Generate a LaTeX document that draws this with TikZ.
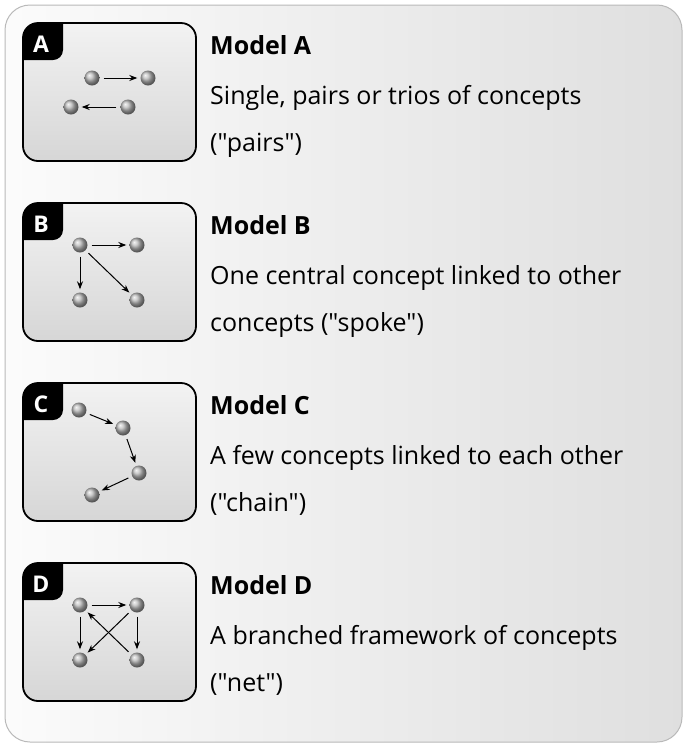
\documentclass[tikz,border=0pt]{standalone}
\usepackage{fontspec}
\setmainfont{Open Sans}[Ligatures=TeXOff]
\usetikzlibrary{arrows.meta}
\tikzset{
  ball/.style={circle,inner sep=0pt,minimum size=15pt,shading=ball,ball color=gray!55},
  lnk/.style={-{Stealth[length=8pt,width=6pt]},line width=1pt,shorten <=4pt,shorten >=3pt},
  mbox/.style={draw=black,line width=1.8pt,rounded corners=15pt,minimum width=173pt,minimum height=138pt,
    top color=gray!10,bottom color=gray!32,
    path picture={\fill[black,rounded corners=10pt] ([shift={(-10pt,10pt)}]path picture bounding box.north west)
      rectangle ([shift={(40pt,-37pt)}]path picture bounding box.north west);}},
  tabl/.style={text=white,font=\bfseries\fontsize{23}{23}\selectfont},
  mtitle/.style={anchor=base west,inner sep=0pt,font=\bfseries\fontsize{25}{25}\selectfont},
  mtext/.style={anchor=base west,inner sep=0pt,font=\fontsize{25}{25}\selectfont},
}

\begin{document}
\begin{tikzpicture}[x=1pt,y=-1pt]
\useasboundingbox (0,0) rectangle (686,748);
\path[draw=gray!55,line width=1pt,rounded corners=25pt,left color=gray!3,right color=gray!25] (5,5) rectangle (682,742);
% model A
\node[mbox] (boxA) at (109.5,92) {};
\node[tabl] (labA) at (41,44) {A};
\node[mtitle] (tA) at (210,54) {Model A};
\node[mtext] (sA1) at (210,104) {Single, pairs or trios of concepts};
\node[mtext] (sA2) at (210,151) {("pairs")};
\node[ball] (a1) at (92,78) {};
\node[ball] (a2) at (148,78) {};
\node[ball] (a3) at (71,107) {};
\node[ball] (a4) at (128,107) {};
\draw[lnk] (a1) -- (a2);
\draw[lnk] (a4) -- (a3);
% model B
\node[mbox] (boxB) at (109.5,272) {};
\node[tabl] (labB) at (41,224) {B};
\node[mtitle] (tB) at (210,234) {Model B};
\node[mtext] (sB1) at (210,284) {One central concept linked to other};
\node[mtext] (sB2) at (210,331) {concepts ("spoke")};
\node[ball] (b1) at (80,245) {};
\node[ball] (b2) at (137,245) {};
\node[ball] (b3) at (80,300) {};
\node[ball] (b4) at (137,300) {};
\draw[lnk] (b1) -- (b2);
\draw[lnk] (b1) -- (b3);
\draw[lnk] (b1) -- (b4);
% model C
\node[mbox] (boxC) at (109.5,452) {};
\node[tabl] (labC) at (41,404) {C};
\node[mtitle] (tC) at (210,414) {Model C};
\node[mtext] (sC1) at (210,464) {A few concepts linked to each other};
\node[mtext] (sC2) at (210,511) {("chain")};
\node[ball] (c1) at (79,410) {};
\node[ball] (c2) at (123,428) {};
\node[ball] (c3) at (139,473) {};
\node[ball] (c4) at (92,495) {};
\draw[lnk] (c1) -- (c2);
\draw[lnk] (c2) -- (c3);
\draw[lnk] (c3) -- (c4);
% model D
\node[mbox] (boxD) at (109.5,632) {};
\node[tabl] (labD) at (41,584) {D};
\node[mtitle] (tD) at (210,594) {Model D};
\node[mtext] (sD1) at (210,644) {A branched framework of concepts};
\node[mtext] (sD2) at (210,691) {("net")};
\node[ball] (d1) at (80,605) {};
\node[ball] (d2) at (137,605) {};
\node[ball] (d3) at (80,660) {};
\node[ball] (d4) at (137,660) {};
\draw[lnk] (d1) -- (d2);
\draw[lnk] (d1) -- (d3);
\draw[lnk] (d2) -- (d4);
\draw[lnk] (d2) -- (d3);
\draw[lnk] (d4) -- (d1);
\end{tikzpicture}
\end{document}
